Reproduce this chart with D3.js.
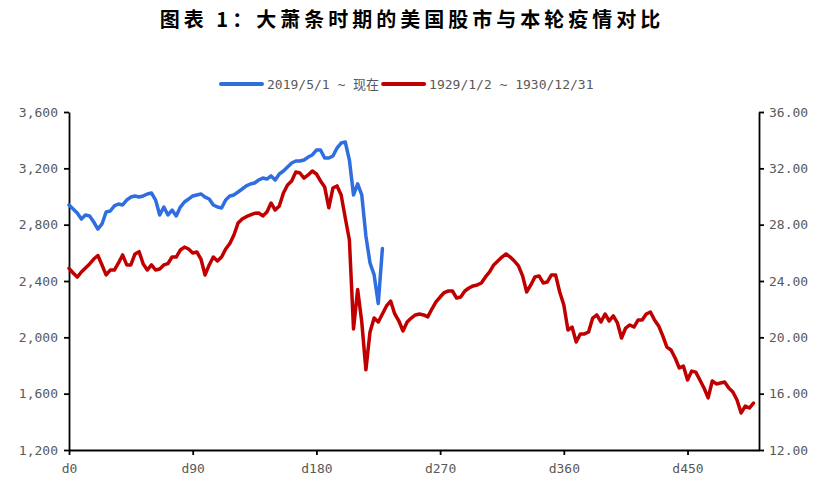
<!DOCTYPE html>
<meta charset="utf-8">
<style>
body { margin: 0; background: #fff; }
.axis text { fill: #595959; font-size: 13px; font-family: "DejaVu Sans Mono", "Noto Sans CJK SC", monospace; }
.axis path, .axis line { stroke: #000; stroke-width: 1.8; }
.title { font-family: "Noto Sans CJK SC", sans-serif; font-size: 20px; font-weight: bold; letter-spacing: 4px; }
.legend text { fill: #595959; font-size: 13px; font-family: "DejaVu Sans Mono", "Noto Sans CJK SC", monospace; }
.series { fill: none; stroke-width: 3.5; stroke-linejoin: round; stroke-linecap: round; }
</style>
<svg width="824" height="483"></svg>
<script src="https://cdn.jsdelivr.net/npm/d3@7"></script>
<script>

var STEP = 3;
var seriesNames = ["2019/5/1 ~ 现在", "1929/1/2 ~ 1930/12/31"];

// S&P 500 since 2019/5/1 (left axis)
var blueValues = [2940,2911,2883,2840,2869,2862,2819,2769,2805,2890,
  2897,2933,2947,2940,2975,2996,3004,2996,3004,3018,
  3025,2975,2869,2925,2869,2904,2862,2925,2961,2982,
  3004,3011,3018,2996,2982,2940,2925,2918,2975,3004,
  3011,3032,3053,3075,3089,3096,3117,3131,3124,3146,
  3117,3160,3181,3210,3238,3252,3252,3259,3280,3295,
  3330,3330,3273,3273,3288,3344,3380,3387,3259,3011,
  3090,3011,2720,2528,2443,2240,2630];

// 1929/1/2 ~ 1930/12/31 index (right axis)
var redValues = [24.90,24.57,24.28,24.64,24.92,25.21,25.56,25.81,25.14,24.43,
  24.78,24.78,25.28,25.85,25.14,25.14,25.92,26.08,25.21,24.78,
  25.14,24.78,24.85,25.14,25.24,25.70,25.70,26.20,26.41,26.27,
  25.99,26.06,25.56,24.43,25.14,25.70,25.42,25.70,26.27,26.66,
  27.27,28.12,28.40,28.57,28.69,28.81,28.83,28.62,28.90,29.54,
  29.04,29.33,30.25,30.82,31.10,31.74,31.67,31.31,31.53,31.81,
  31.60,31.10,30.68,29.20,30.60,30.75,30.11,28.47,26.91,20.60,
  23.40,21.09,17.70,20.38,21.37,21.09,21.66,22.23,22.58,21.66,
  21.16,20.45,21.09,21.37,21.59,21.66,21.59,21.45,22.01,22.51,
  22.86,23.18,23.29,23.29,22.79,22.86,23.29,23.50,23.65,23.72,
  23.86,24.29,24.64,25.14,25.42,25.70,25.92,25.70,25.42,25.07,
  24.36,23.22,23.72,24.29,24.36,23.86,23.93,24.43,24.43,23.22,
  22.30,20.52,20.73,19.67,20.24,20.24,20.38,21.37,21.59,21.09,
  21.66,21.16,21.52,21.02,19.95,20.66,20.88,20.73,21.23,21.23,
  21.66,21.80,21.23,20.81,20.10,19.31,19.10,18.53,17.82,17.96,
  16.97,17.60,17.53,16.97,16.40,15.70,16.90,16.69,16.76,16.83,
  16.40,16.12,15.55,14.63,15.12,14.98,15.33];

var xTickDays = [0, 90, 180, 270, 360, 450];
var leftTicks = [1200, 1600, 2000, 2400, 2800, 3200, 3600];
var rightTicks = [12, 16, 20, 24, 28, 32, 36];

var blueColor = "#2f6ee0",
    redColor = "#c00000";

var svg = d3.select("svg"),
    margin = {left: 69, right: 65, top: 112, bottom: 33},
    width = +svg.attr("width"),
    height = +svg.attr("height");

var x = d3.scaleLinear()
    .domain([0, 502])
    .range([margin.left, width - margin.right]);

var yLeft = d3.scaleLinear()
    .domain([1200, 3600])
    .range([height - margin.bottom, margin.top]);

var yRight = d3.scaleLinear()
    .domain([12, 36])
    .range([height - margin.bottom, margin.top]);

svg.append("text")
    .attr("class", "title")
    .attr("x", 412)
    .attr("y", 27)
    .attr("text-anchor", "middle")
    .text("图表 1：大萧条时期的美国股市与本轮疫情对比");

// axes
svg.append("g")
    .attr("class", "axis")
    .attr("transform", "translate(0," + (height - margin.bottom) + ")")
    .call(d3.axisBottom(x)
      .tickValues(xTickDays)
      .tickFormat(function(d) { return "d" + d; })
      .tickSize(5)
      .tickSizeOuter(0)
      .tickPadding(9));

svg.append("g")
    .attr("class", "axis")
    .attr("transform", "translate(" + margin.left + ",0)")
    .call(d3.axisLeft(yLeft)
      .tickValues(leftTicks)
      .tickFormat(d3.format(","))
      .tickSize(5)
      .tickSizeOuter(0)
      .tickPadding(6));

svg.append("g")
    .attr("class", "axis")
    .attr("transform", "translate(" + (width - margin.right) + ",0)")
    .call(d3.axisRight(yRight)
      .tickValues(rightTicks)
      .tickFormat(d3.format(".2f"))
      .tickSize(5)
      .tickSizeOuter(0)
      .tickPadding(5));

// lines
var lineRed = d3.line()
    .x(function(d, i) { return x(i * STEP); })
    .y(function(d) { return yRight(d); });

var lineBlue = d3.line()
    .x(function(d, i) { return x(i * STEP); })
    .y(function(d) { return yLeft(d); });

svg.append("path")
    .datum(redValues)
    .attr("class", "series")
    .attr("stroke", redColor)
    .attr("d", lineRed);

svg.append("path")
    .datum(blueValues)
    .attr("class", "series")
    .attr("stroke", blueColor)
    .attr("d", lineBlue);

// legend
var legend = svg.append("g").attr("class", "legend"),
    lx = 221, ly = 84;
[blueColor, redColor].forEach(function(c, i) {
  legend.append("line")
      .attr("x1", lx).attr("x2", lx + 41)
      .attr("y1", ly).attr("y2", ly)
      .attr("stroke", c)
      .attr("stroke-width", 4)
      .attr("stroke-linecap", "round");
  var t = legend.append("text")
      .attr("x", lx + 46)
      .attr("y", ly + 5)
      .text(seriesNames[i]);
  lx = lx + 46 + t.node().getComputedTextLength() + 4;
});

</script>
